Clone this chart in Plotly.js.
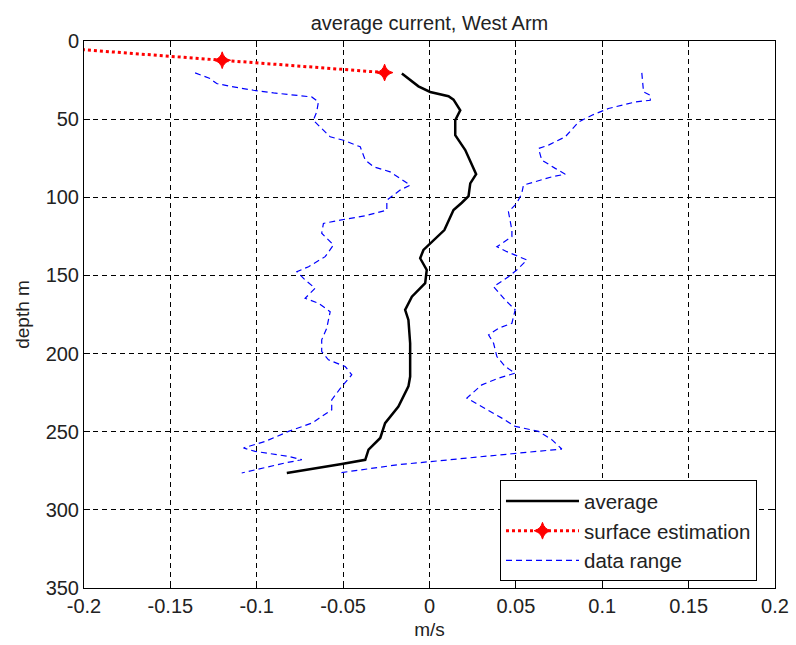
<!DOCTYPE html>
<html>
<head>
<meta charset="utf-8">
<script src="https://cdn.plot.ly/plotly-3.0.1.min.js"></script>
<style>html,body{margin:0;padding:0;background:#fff;}#chart{width:796px;height:645px;}</style>
</head>
<body>
<div id="chart"></div>
<script>
// average current profile
const avgX = [-0.016, -0.0064, 0.0004, 0.011, 0.0139, 0.0178, 0.0149, 0.0149, 0.0207, 0.027, 0.0236, 0.0226, 0.0187, 0.0139, 0.0086, 0.0004, -0.0035, -0.0054, -0.0016, -0.0025, -0.0102, -0.0141, -0.0122, -0.0112, -0.0112, -0.0122, -0.018, -0.0257, -0.0285, -0.0353, -0.0372, -0.0508, -0.0643, -0.0826];
const avgDepth = [20.8, 29, 32.6, 35.3, 37.5, 44.3, 50.7, 60.3, 69.8, 85.2, 91.1, 99.2, 103.5, 108.2, 121, 129.5, 133.7, 139, 146.5, 155, 163.6, 172, 178.5, 193.4, 214.7, 221, 233.9, 244.5, 254, 261.5, 268, 270.7, 273.2, 276.4];

// surface estimation
const surfX = [-0.267, -0.12, -0.026];
const surfDepth = [0, 12.3, 20.2];

// data range: minimum
const minX = [-0.1357, -0.127, -0.1232, -0.1154, -0.1019, -0.0903, -0.0682, -0.0643, -0.0653, -0.0672, -0.0633, -0.0575, -0.0498, -0.0401, -0.0372, -0.0324, -0.0228, -0.0112, -0.017, -0.0247, -0.0247, -0.0372, -0.0517, -0.0614, -0.0624, -0.0556, -0.0604, -0.07, -0.0768, -0.072, -0.0662, -0.072, -0.0643, -0.0575, -0.0595, -0.0624, -0.0624, -0.0585, -0.0488, -0.045, -0.0508, -0.0566, -0.0566, -0.0681, -0.0816, -0.0951, -0.1077, -0.1009, -0.0816, -0.0739, -0.0836, -0.1087];
const minDepth = [20.4, 24, 27.2, 29, 31.5, 33.2, 35.8, 39, 45.4, 50.7, 55, 61.3, 63.5, 67.7, 76.2, 80.5, 83.7, 92.2, 95.4, 101.8, 108.2, 111.8, 114.6, 116.7, 123, 130.5, 138, 144.4, 147.6, 152.9, 158.2, 164.6, 167.8, 173.2, 183.8, 191.2, 198.7, 204, 208.3, 213.6, 221.1, 229.6, 236, 244.5, 249.8, 256.2, 260.4, 262.6, 265.8, 267.9, 270, 276.4];

// data range: maximum
const maxX = [0.1229, 0.1239, 0.1278, 0.1278, 0.1191, 0.1036, 0.094, 0.0863, 0.0786, 0.0689, 0.0631, 0.065, 0.0728, 0.0786, 0.0708, 0.0612, 0.0544, 0.0534, 0.0505, 0.0457, 0.0477, 0.0477, 0.039, 0.0448, 0.0496, 0.0564, 0.0505, 0.0457, 0.0371, 0.0438, 0.0496, 0.0477, 0.04, 0.0342, 0.0371, 0.039, 0.0438, 0.0496, 0.04, 0.0303, 0.0216, 0.0303, 0.0419, 0.0496, 0.0631, 0.0708, 0.0766, 0.0477, 0.0207, 0.0014, -0.018, -0.0527];
const maxDepth = [20.4, 32.6, 34.7, 37.9, 39, 43.2, 47.5, 51.8, 61.3, 66.6, 68.8, 76.2, 81.5, 85.2, 86.9, 90.1, 92.2, 97.5, 103.9, 109.3, 121, 125.2, 131.6, 134.8, 136.9, 140.1, 146.5, 150.8, 157.2, 165.7, 172, 180.6, 183.8, 188, 193.4, 201.9, 208.3, 212.5, 215.7, 220, 228.5, 233.9, 241.3, 246.6, 249.8, 255.1, 261.1, 264.1, 266.8, 269, 271.1, 276.4];

// axis ticks
const xTickVals = [-0.2, -0.15, -0.1, -0.05, 0, 0.05, 0.1, 0.15, 0.2];
const xTickText = ['-0.2', '-0.15', '-0.1', '-0.05', '0', '0.05', '0.1', '0.15', '0.2'];
const yTickVals = [0, 50, 100, 150, 200, 250, 300, 350];

const FONT = 'Liberation Sans, Arial, sans-serif';

const traces = [
  {x: avgX, y: avgDepth, mode: 'lines', name: 'average',
   line: {color: '#000000', width: 2.5}},
  {x: surfX, y: surfDepth, mode: 'lines+markers', name: 'surface estimation',
   line: {color: '#ff0000', width: 3, dash: 'dot'},
   marker: {symbol: 'star-diamond', size: 12, color: '#ff0000', line: {color: '#ff0000', width: 1}}},
  {x: minX, y: minDepth, mode: 'lines', name: 'data range', legendgroup: 'range',
   line: {color: '#0000ff', width: 1.2, dash: '6px,4px'}},
  {x: maxX, y: maxDepth, mode: 'lines', name: 'data range', legendgroup: 'range', showlegend: false,
   line: {color: '#0000ff', width: 1.2, dash: '6px,4px'}}
];

const axisCommon = {
  showline: true, linecolor: '#000', linewidth: 1, mirror: 'ticks',
  ticks: 'inside', ticklen: 6, tickcolor: '#000', tickwidth: 1,
  showgrid: true, gridcolor: '#000', gridwidth: 1, griddash: '5px,4px',
  zeroline: false, tickfont: {family: FONT, size: 20, color: '#222'}
};

const layout = {
  width: 796, height: 645,
  margin: {l: 84, r: 21, t: 41, b: 57},
  paper_bgcolor: '#fff', plot_bgcolor: '#fff',
  font: {family: FONT, color: '#222'},
  title: {text: 'average current, West Arm', font: {family: FONT, size: 20, color: '#222'},
          x: 0.5, xref: 'paper', y: 0.964, yanchor: 'middle'},
  xaxis: Object.assign({}, axisCommon, {
    range: [-0.2, 0.2], tickvals: xTickVals, ticktext: xTickText,
    title: {text: 'm/s', font: {family: FONT, size: 19, color: '#222'}, standoff: 6}
  }),
  yaxis: Object.assign({}, axisCommon, {
    range: [350, 0], tickvals: yTickVals,
    title: {text: 'depth m', font: {family: FONT, size: 19, color: '#222'}, standoff: 10}
  }),
  showlegend: true,
  legend: {x: 0.602, y: 0.197, xanchor: 'left', yanchor: 'top',
           bgcolor: '#fff', bordercolor: '#000', borderwidth: 1,
           itemwidth: 73,
           font: {family: FONT, size: 20.5, color: '#222'}, tracegroupgap: 0}
};

Plotly.newPlot('chart', traces, layout, {displayModeBar: false, staticPlot: true});
</script>
</body>
</html>
